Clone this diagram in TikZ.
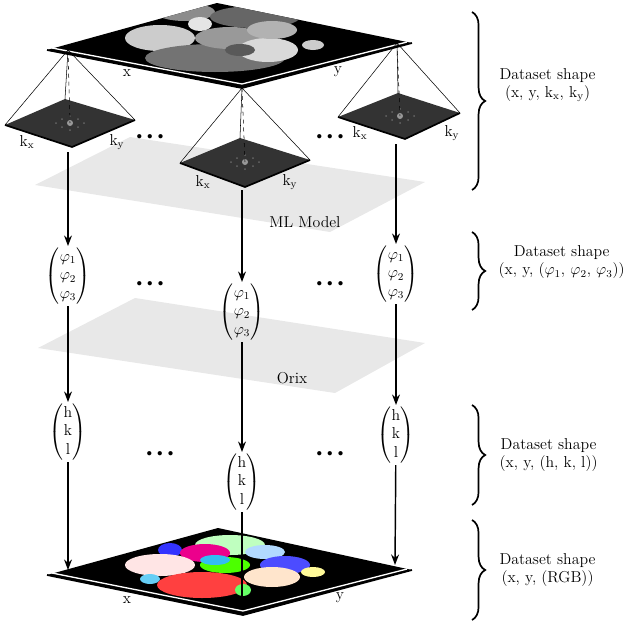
\documentclass[tikz,border=0pt]{standalone}
\usepackage{amsmath}
\usetikzlibrary{arrows.meta,decorations.pathreplacing,calc}

\tikzset{
	flow/.style={line width=1.1pt, -{Stealth[length=8pt,width=6pt]}},
	vec/.style={inner sep=1pt, font=\large},
	dots/.style={font=\large},
	brace/.style={decorate, decoration={brace, amplitude=10pt}, line width=1.3pt},
	info/.style={align=center, anchor=west, font=\large},
	lbl/.style={font=\large},
	ghost/.style={fill=black!9},
	edge/.style={line width=1.3pt},
	wire/.style={line width=0.4pt},
}

% plane with corners left, top, right, bottom
\newcommand{\Plane}[5]{
	\fill[#5] #1 -- #2 -- #3 -- #4 -- cycle;
}
\newcommand{\Pattern}[5]{
	\fill[black!80] #1 -- #2 -- #3 -- #4 -- cycle;
	\fill[white, opacity=0.5] #5 circle (3);
	\foreach \dx/\dy in {-14/0, 14/0, 0/-7, 0/7, -8/-4, 8/4, 8/-4, -8/4}
		\fill[white, opacity=0.25] ($#5+(\dx,\dy)$) circle (1);
	\draw[edge] #1 -- #4 -- #3;
}
\newcommand{\Dots}{\textbullet\hspace{-1pt}\textbullet\hspace{-1pt}\textbullet}

\begin{document}
\begin{tikzpicture}[x=0.76pt, y=-0.76pt]

\useasboundingbox (0,0) rectangle (640,626);

% ML model and Orix planes
\Plane{(35,185)}{(130,137)}{(425,182)}{(330,232)}{ghost}
\node[lbl] (ml) at (305,222) {ML Model};
\Plane{(38,348)}{(135,298)}{(425,343)}{(335,393)}{ghost}
\node[lbl] (orix) at (292,378) {Orix};

% top plane, grey grains
\Plane{(47,50)}{(217,3)}{(412,43)}{(242,88)}{black}
\begin{scope}
	\clip (47,50) -- (217,3) -- (412,43) -- (242,88) -- cycle;
	\fill[black!45] (185,12) ellipse (30 and 9);
	\fill[black!60] (255,17) ellipse (45 and 11);
	\fill[black!20] (160,38) ellipse (35 and 13);
	\fill[black!55] (215,58) ellipse (70 and 14);
	\fill[black!40] (230,38) ellipse (35 and 11);
	\fill[black!15] (268,50) ellipse (30 and 12);
	\fill[black!30] (272,30) ellipse (25 and 9);
	\fill[black!20] (313,45) ellipse (11 and 5);
	\fill[black!10] (200,24) ellipse (12 and 7);
	\fill[black!65] (240,50) ellipse (15 and 6);
\end{scope}
\draw[edge] (47,50) -- (242,88) -- (412,43);
\draw[white, line width=1pt] (52,48) -- (242,84) -- (407,42);
\node[lbl] (x1) at (127,73) {x};
\node[lbl] (y1) at (338,72) {y};

% pyramids
\coordinate (apexL) at (68,50);
\coordinate (apexM) at (242,88);
\coordinate (apexR) at (397,43);
\Pattern{(5,125)}{(65,99)}{(135,120)}{(72,147)}{(70,123)}
\Pattern{(180,163)}{(240,138)}{(310,160)}{(245,187)}{(245,162)}
\Pattern{(338,117)}{(398,93)}{(460,113)}{(405,139)}{(400,116)}
\foreach \a/\l/\t/\r/\c in {apexL/{5,125}/{65,99}/{135,120}/{70,123},
		apexM/{180,163}/{240,138}/{310,160}/{245,162},
		apexR/{338,117}/{398,93}/{460,113}/{400,116}} {
	\draw[wire] (\a) -- (\l);
	\draw[wire] (\a) -- (\t);
	\draw[wire] (\a) -- (\r);
	\draw[wire, dashed] (\a) -- (\c);
}
\node[lbl] (kxL) at (27,142) {k$_\mathrm{x}$};
\node[lbl] (kyL) at (117,142) {k$_\mathrm{y}$};
\node[lbl] (kxM) at (203,182) {k$_\mathrm{x}$};
\node[lbl] (kyM) at (290,182) {k$_\mathrm{y}$};
\node[lbl] (kxR) at (360,133) {k$_\mathrm{x}$};
\node[lbl] (kyR) at (452,133) {k$_\mathrm{y}$};

% bottom plane, coloured grains
\Plane{(47,575)}{(218,528)}{(412,570)}{(243,615)}{black}
\begin{scope}
	\clip (47,575) -- (218,528) -- (412,570) -- (243,615) -- cycle;
	\fill[green!25] (230,545) ellipse (35 and 10);
	\fill[blue!80] (170,550) ellipse (12 and 7);
	\fill[magenta] (205,553) ellipse (25 and 9);
	\fill[pink!40] (160,565) ellipse (35 and 11);
	\fill[green!70!yellow] (225,565) ellipse (25 and 8);
	\fill[cyan!80] (215,560) ellipse (15 and 5);
	\fill[blue!50!cyan!30] (265,552) ellipse (20 and 7);
	\fill[blue!70] (285,565) ellipse (25 and 9);
	\fill[orange!20] (272,577) ellipse (28 and 10);
	\fill[yellow!40] (313,572) ellipse (12 and 5);
	\fill[cyan!60] (150,579) ellipse (10 and 5);
	\fill[red!75] (202,585) ellipse (45 and 13);
	\fill[green!60] (243,590) ellipse (8 and 6);
\end{scope}
\draw[edge] (47,575) -- (243,615) -- (412,570);
\draw[white, line width=1pt] (52,573) -- (243,611) -- (407,569);
\node[lbl] (x2) at (127,600) {x};
\node[lbl] (y2) at (340,598) {y};
\coordinate (baseL) at (68,570);
\coordinate (baseM) at (242,596);
\coordinate (baseR) at (395,565);

% euler angles
\node[vec] (eL) at (68,276) {$\begin{pmatrix}\varphi_1\\ \varphi_2\\ \varphi_3\end{pmatrix}$};
\node[vec] (eM) at (242,312) {$\begin{pmatrix}\varphi_1\\ \varphi_2\\ \varphi_3\end{pmatrix}$};
\node[vec] (eR) at (396,274) {$\begin{pmatrix}\varphi_1\\ \varphi_2\\ \varphi_3\end{pmatrix}$};

% miller indices
\node[vec] (hL) at (68,432) {$\begin{pmatrix}\mathrm{h}\\ \mathrm{k}\\ \mathrm{l}\end{pmatrix}$};
\node[vec] (hM) at (242,482) {$\begin{pmatrix}\mathrm{h}\\ \mathrm{k}\\ \mathrm{l}\end{pmatrix}$};
\node[vec] (hR) at (396,435) {$\begin{pmatrix}\mathrm{h}\\ \mathrm{k}\\ \mathrm{l}\end{pmatrix}$};

\coordinate (srcL) at (68,152);
\coordinate (srcM) at (242,190);
\coordinate (srcR) at (396,144);
\draw[flow] (srcL) -- (eL);
\draw[flow] (srcM) -- (eM);
\draw[flow] (srcR) -- (eR);
\draw[flow] (eL) -- (hL);
\draw[flow] (eM) -- (hM);
\draw[flow] (eR) -- (hR);
\draw[flow] (hL) -- (baseL);
\draw[line width=1.1pt] (hM) -- (baseM);
\draw[flow] (hR) -- (baseR);

% dots
\node[dots] (d1) at (150,138) {\Dots};
\node[dots] (d2) at (330,138) {\Dots};
\node[dots] (d3) at (150,285) {\Dots};
\node[dots] (d4) at (330,285) {\Dots};
\node[dots] (d5) at (160,455) {\Dots};
\node[dots] (d6) at (330,455) {\Dots};

% braces
\draw[brace] (472,12) -- (472,190);
\draw[brace] (472,232) -- (472,310);
\draw[brace] (472,405) -- (472,505);
\draw[brace] (472,520) -- (472,620);
\node[info] (s1) at (495,85) {Dataset shape\\(x, y, k$_\mathrm{x}$, k$_\mathrm{y}$)};
\node[info] (s2) at (494,262) {Dataset shape\\(x, y, ($\varphi_1$, $\varphi_2$, $\varphi_3$))};
\node[info] (s3) at (495,455) {Dataset shape\\(x, y, (h, k, l))};
\node[info] (s4) at (495,570) {Dataset shape\\(x, y, (RGB))};

\end{tikzpicture}
\end{document}
